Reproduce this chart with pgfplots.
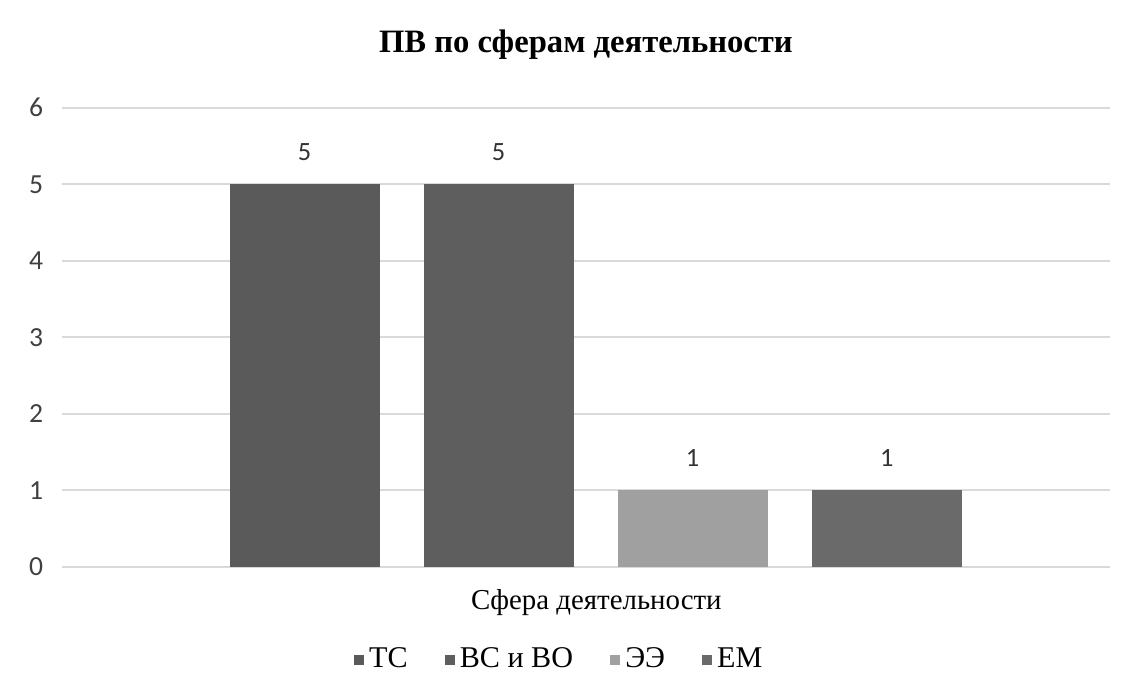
\documentclass[border=0pt]{standalone}
\usepackage{pgfplots}
\pgfplotsset{compat=1.18}
\usepackage{fontspec}
\setmainfont{Liberation Serif}
\newfontfamily\calib{Carlito}

\definecolor{barA}{HTML}{5A5A5A}
\definecolor{barB}{HTML}{5E5E5E}
\definecolor{barC}{HTML}{A0A0A0}
\definecolor{barD}{HTML}{6A6A6A}
\definecolor{gridc}{HTML}{D9D9D9}

\begin{document}
\begin{tikzpicture}
\begin{axis}[
    at={(0,0)}, anchor=south west,
    scale only axis,
    width=14.67cm, height=6.43cm,
    xmin=-1.25, xmax=4.15,
    ymin=0, ymax=6,
    ytick={0,1,...,6},
    xtick=\empty,
    axis line style={draw=none},
    major tick length=0pt,
    ymajorgrids,
    grid style={gridc, line width=0.8pt},
    tick label style={font=\calib\fontsize{11}{13}\selectfont, text=black!75},
    yticklabel style={xshift=-0.14cm},
    /pgf/number format/assume math mode=true,
    ybar, bar width=2.1cm, bar shift=0pt,
    nodes near coords,
    every node near coord/.append style={font=\calib\fontsize{10.5}{12}\selectfont, text=black!80, yshift=6pt},
    title={\bfseries ПВ по сферам деятельности},
    title style={font=\fontsize{13}{15}\selectfont, at={(axis description cs:0.5,1)}, anchor=center, yshift=0.672cm},
    xlabel={Сфера деятельности},
    xlabel style={font=\fontsize{11.5}{13}\selectfont, at={(axis description cs:0.51,0)}, anchor=center, yshift=-0.504cm},
    legend style={draw=none, font=\fontsize{12}{14}\selectfont,
        at={(axis description cs:0.476,0)}, anchor=center, yshift=-1.30cm,
        legend columns=4,
        /tikz/every even column/.append style={column sep=0.45cm}},
    legend image code/.code={\fill[#1] (0.04cm,-0.07cm) rectangle (0.18cm,0.07cm);},
]
\addplot[fill=barA, draw=none] coordinates {(0,5)};
\addlegendentry{ТС}
\addplot[fill=barB, draw=none] coordinates {(1,5)};
\addlegendentry{ВС и ВО}
\addplot[fill=barC, draw=none] coordinates {(2,1)};
\addlegendentry{ЭЭ}
\addplot[fill=barD, draw=none] coordinates {(3,1)};
\addlegendentry{ЕМ}
\end{axis}
\path[use as bounding box] (-0.868cm,-1.652cm) rectangle (15.162cm,7.938cm);
\end{tikzpicture}
\end{document}
